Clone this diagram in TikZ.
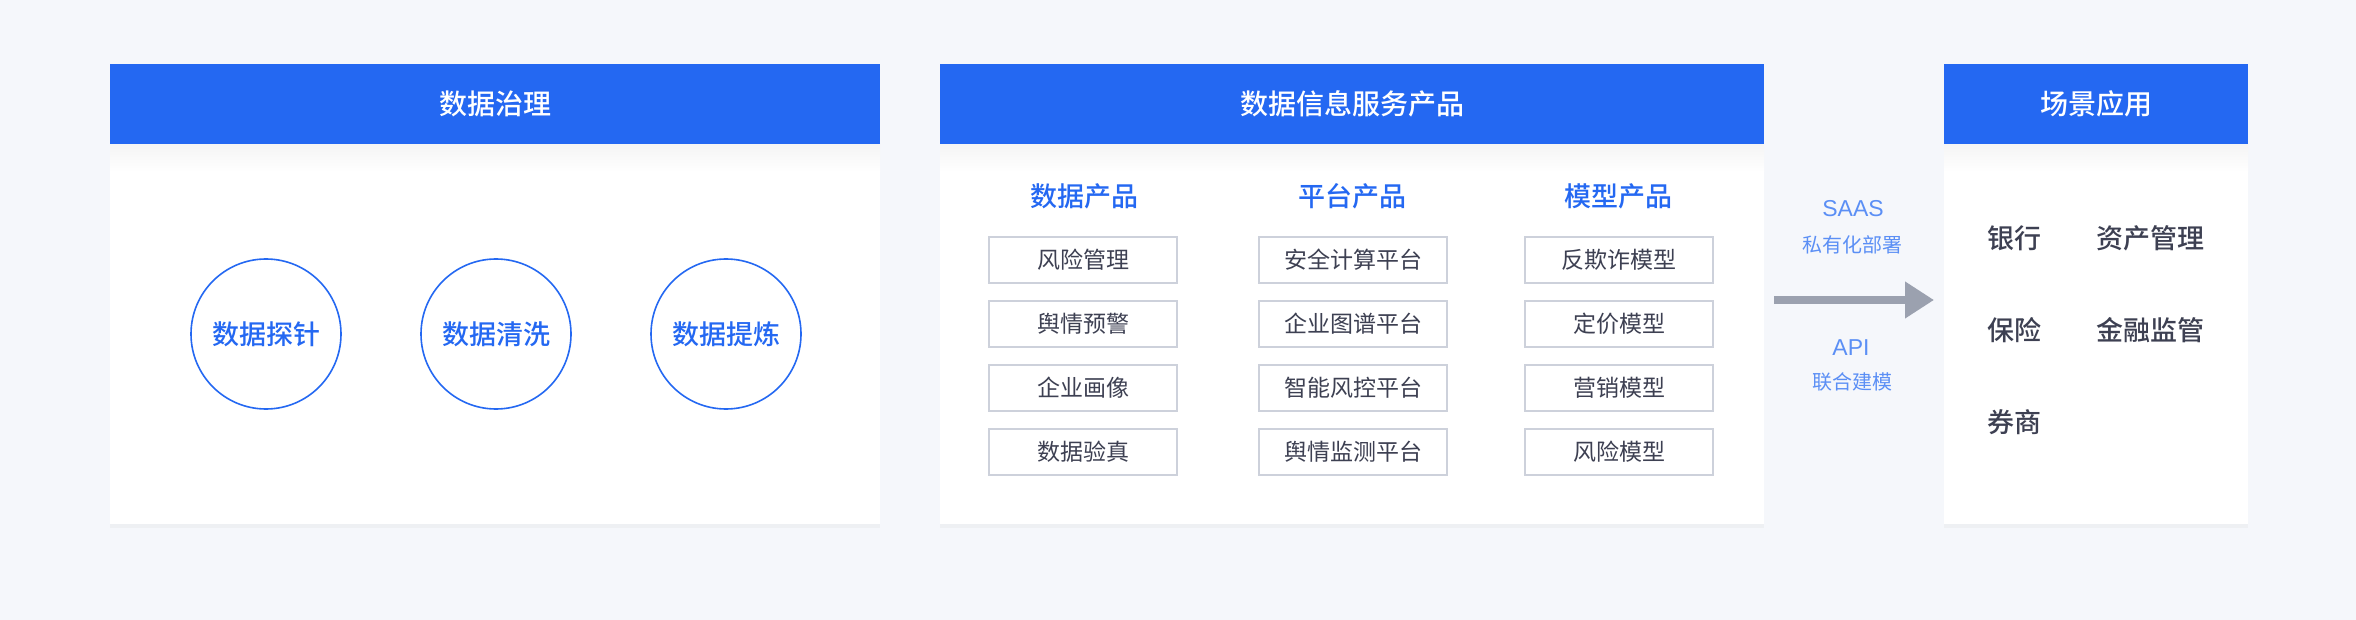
\documentclass[tikz,border=0pt]{standalone}
\usepackage{fontspec}
\setmainfont{Noto Sans CJK SC}
\newfontfamily\cjkmed{Noto Sans CJK SC}[UprightFont={* Medium}]
\newfontfamily\latinfont{Liberation Sans}
\usepackage{xcolor}
\usepackage{tikz}
\usetikzlibrary{arrows.meta,shadows}
\definecolor{hdblue}{HTML}{2468F2}
\definecolor{lblblue}{HTML}{5B8FF5}
\definecolor{txtgray}{HTML}{3D4052}
\definecolor{boxline}{HTML}{CDD1DB}
\definecolor{arrgray}{HTML}{9BA1AF}
\definecolor{pagebg}{HTML}{F5F7FB}

\begin{document}
\begin{tikzpicture}[x=0.5pt,y=-0.5pt,
  body/.style={rectangle,fill=white,inner sep=0pt,minimum height=230pt,
    drop shadow={shadow xshift=0pt,shadow yshift=-2pt,opacity=0.06}},
  hdr/.style={rectangle,fill=hdblue,text=white,inner sep=0pt,minimum height=40pt,
    font=\cjkmed\fontsize{14}{16}\selectfont},
  ring/.style={circle,draw=hdblue,line width=0.8pt,minimum size=75pt,inner sep=0pt,
    text=hdblue,font=\cjkmed\fontsize{13.5}{16}\selectfont},
  colhd/.style={inner sep=0pt,text=hdblue,font=\cjkmed\fontsize{13.5}{16}\selectfont},
  item/.style={rectangle,draw=boxline,line width=1pt,minimum width=94pt,minimum height=23pt,
    inner sep=0pt,text=txtgray,font=\fontsize{11.5}{14}\selectfont},
  scene/.style={anchor=west,inner sep=0pt,text=txtgray,font=\cjkmed\fontsize{13.5}{16}\selectfont},
  via/.style={inner sep=0pt,text=lblblue,font=\latinfont\fontsize{11.5}{14}\selectfont},
  vianote/.style={inner sep=0pt,text=lblblue,font=\fontsize{10}{12}\selectfont}]
  \fill[pagebg] (0,0) rectangle (2356,620);
  \useasboundingbox (0,0) rectangle (2356,620);

  % panels
  \node[body,minimum width=385pt] (govbody) at (495,294) {};
  \node[body,minimum width=412pt] (svcbody) at (1352,294) {};
  \node[body,minimum width=152pt] (appbody) at (2096,294) {};
  \shade[top color=black!4,bottom color=white] (110,144) rectangle (880,172);
  \shade[top color=black!4,bottom color=white] (940,144) rectangle (1764,172);
  \shade[top color=black!4,bottom color=white] (1944,144) rectangle (2248,172);
  \node[hdr,minimum width=385pt] (govhd) at (495,104) {数据治理};
  \node[hdr,minimum width=412pt] (svchd) at (1352,104) {数据信息服务产品};
  \node[hdr,minimum width=152pt] (apphd) at (2096,104) {场景应用};

  % data governance
  \node[ring] (probe) at (266,334) {数据探针};
  \node[ring] (clean) at (496,334) {数据清洗};
  \node[ring] (refine) at (726,334) {数据提炼};

  % products
  \node[colhd] (dataprod) at (1084,196) {数据产品};
  \node[colhd] (platprod) at (1352,196) {平台产品};
  \node[colhd] (modelprod) at (1618,196) {模型产品};

  \node[item] (d1) at (1083,260) {风险管理};
  \node[item] (d2) at (1083,324) {舆情预警};
  \node[item] (d3) at (1083,388) {企业画像};
  \node[item] (d4) at (1083,452) {数据验真};
  \node[item] (p1) at (1353,260) {安全计算平台};
  \node[item] (p2) at (1353,324) {企业图谱平台};
  \node[item] (p3) at (1353,388) {智能风控平台};
  \node[item] (p4) at (1353,452) {舆情监测平台};
  \node[item] (m1) at (1619,260) {反欺诈模型};
  \node[item] (m2) at (1619,324) {定价模型};
  \node[item] (m3) at (1619,388) {营销模型};
  \node[item] (m4) at (1619,452) {风险模型};

  % delivery
  \node[via] (saas) at (1853,209) {SAAS};
  \node[vianote] (saasnote) at (1852,245) {私有化部署};
  \node[via] (api) at (1851,348) {API};
  \node[vianote] (apinote) at (1852,382) {联合建模};
  \coordinate (arrfrom) at (1774,300);
  \coordinate (arrto) at (1934,300);
  \draw[-{Triangle[length=14.5pt,width=17.5pt]},arrgray,line width=4pt] (arrfrom) -- (arrto);

  % scenes
  \node[scene] (bank) at (1987,238) {银行};
  \node[scene] (asset) at (2096,238) {资产管理};
  \node[scene] (insure) at (1987,330) {保险};
  \node[scene] (regul) at (2096,330) {金融监管};
  \node[scene] (broker) at (1987,422) {券商};
\end{tikzpicture}
\end{document}
